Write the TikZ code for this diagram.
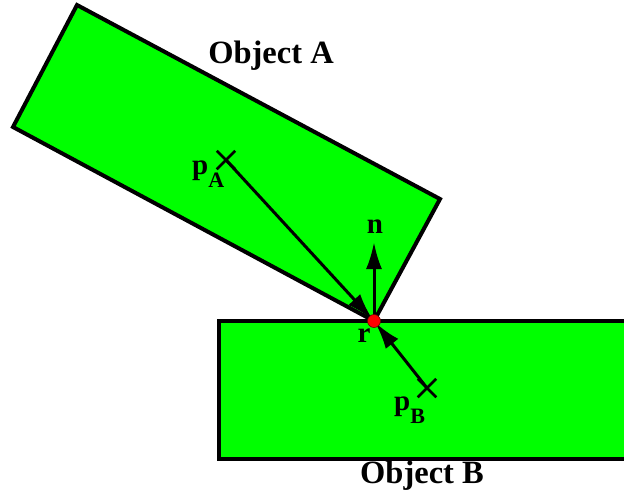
\documentclass[tikz,border=0pt]{standalone}
\usepackage{fontspec}
\setmainfont{Liberation Serif}
\usetikzlibrary{arrows.meta,shapes.misc}
\definecolor{objgreen}{RGB}{0,255,0}
\tikzset{
  objbox/.style={draw=black,line width=4pt,fill=objgreen,line join=miter},
  vec/.style={draw=black,line width=3pt,-{Latex[length=27pt,width=16pt]},shorten >=2pt},
  marker/.style={cross out,draw=black,line width=2.5pt,minimum size=16pt,inner sep=0pt},
  objlabel/.style={font=\bfseries\fontsize{32.5}{38}\selectfont,inner sep=0pt},
  symlabel/.style={font=\bfseries\fontsize{29}{33}\selectfont,inner sep=0pt},
}
\newcommand{\subl}[1]{\raisebox{-0.45em}{\fontsize{22}{24}\selectfont #1}}
\begin{document}
\begin{tikzpicture}[x=1pt,y=-1pt]
\useasboundingbox (0,0) rectangle (624,501);
% Object B
\draw[objbox] (219,321) rectangle (640,459);
% Object A
\coordinate (a1) at (77,5);
\coordinate (a2) at (440,199);
\coordinate (a3) at (374,321);
\coordinate (a4) at (13,127);
\draw[objbox] (a1) -- (a2) -- (a3) -- (a4) -- cycle;
% labels
\node[objlabel] (la) at (271,56) {Object A};
\node[objlabel] (lb) at (422,476) {Object B};
% points
\coordinate (r) at (374,321);
\node[marker] (pA) at (226,160) {};
\node[marker] (pB) at (427,388) {};
\coordinate (ntip) at (374,242);
\draw[vec] (pA.center) -- (r);
\draw[vec] (pB.center) -- (r);
\draw[vec,shorten >=0pt] (r) -- (ntip);
\fill[red,draw=black!60!red,line width=0.6pt] (r) circle (6.5pt);
\node[symlabel] (ln) at (375,227) {n};
\node[symlabel] (lr) at (364,336) {r};
\node[symlabel,anchor=base west] (lpA) at (192,174) {p\subl{A}};
\node[symlabel,anchor=base west] (lpB) at (394,410) {p\subl{B}};
\end{tikzpicture}
\end{document}
